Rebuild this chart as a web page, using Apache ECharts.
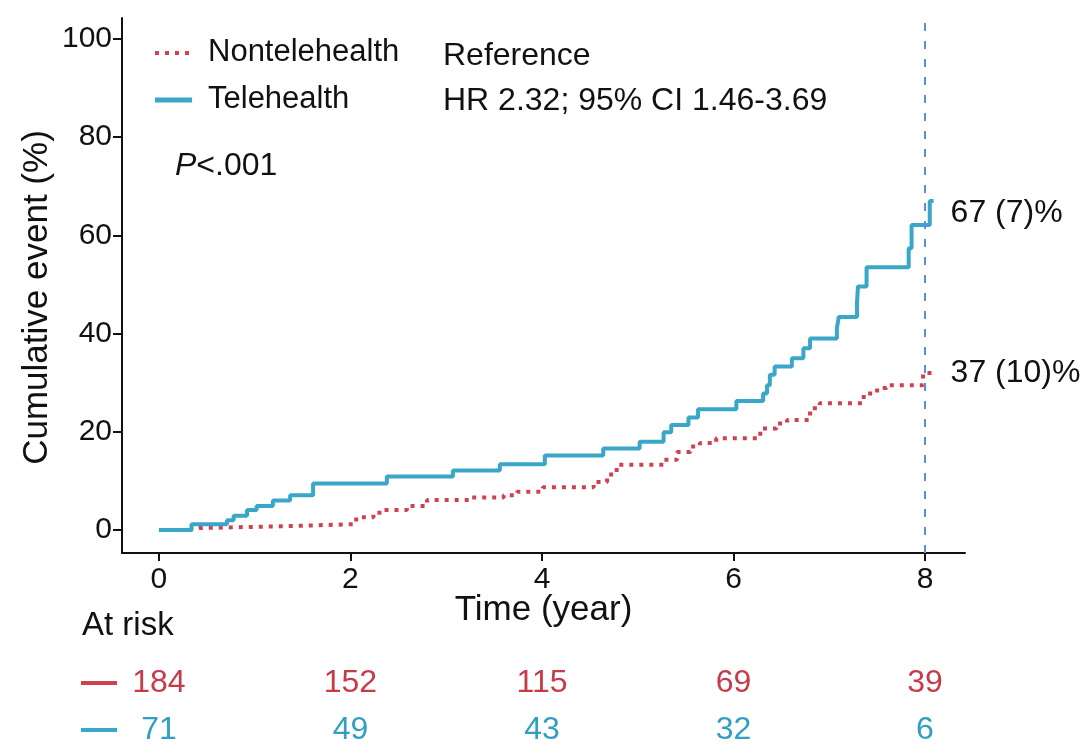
<!DOCTYPE html>
<html>
<head>
<meta charset="utf-8">
<script src="https://cdn.jsdelivr.net/npm/echarts@6/dist/echarts.min.js"></script>
<style>
  html, body { margin: 0; padding: 0; background: #ffffff; }
  #chart { width: 1083px; height: 745px; }
</style>
</head>
<body>
<div id="chart"></div>
<script>
// Cumulative event curves (step functions): time in years, cumulative event in %
const teleTime  = [0, 0.34, 0.71, 0.78, 0.92, 1.02, 1.19, 1.37, 1.61, 2.38, 3.07, 3.56, 4.03, 4.64, 5.02, 5.27, 5.35, 5.53, 5.63, 6.03, 6.31, 6.35, 6.38, 6.43, 6.61, 6.73, 6.80, 7.08, 7.10, 7.29, 7.30, 7.39, 7.83, 7.86, 8.05, 8.09];
const teleEvent = [0, 1.2, 2.0, 2.9, 4.1, 4.9, 6.0, 7.1, 9.5, 10.9, 12.1, 13.4, 15.2, 16.6, 18.0, 19.9, 21.4, 22.9, 24.6, 26.3, 27.8, 29.5, 31.6, 33.3, 35.0, 37.0, 39.0, 41.1, 43.4, 46.2, 49.6, 53.5, 57.4, 62.1, 67.0, 67.0];

const nonTime  = [0, 0.31, 0.42, 1.37, 2.06, 2.24, 2.34, 2.59, 2.80, 3.25, 3.60, 3.74, 4.01, 4.54, 4.68, 4.78, 5.27, 5.41, 5.55, 5.65, 5.82, 6.28, 6.45, 6.56, 6.80, 6.90, 7.36, 7.50, 7.60, 7.98, 8.09];
const nonEvent = [0, 0.4, 0.8, 1.2, 2.6, 3.5, 4.1, 4.9, 6.1, 6.6, 7.1, 7.8, 8.7, 9.8, 11.3, 13.3, 14.3, 15.9, 17.0, 17.7, 18.7, 20.7, 21.7, 22.4, 24.8, 25.8, 27.8, 28.9, 29.5, 32.0, 32.0];

// Axis ticks
const xTicks = [0, 2, 4, 6, 8];
const yTicks = [0, 20, 40, 60, 80, 100];
const landmarkYear = 8;

// Number at risk (row 1 = Nontelehealth, row 0 = Telehealth)
const riskTimes = [0, 2, 4, 6, 8];
const riskNon   = [184, 152, 115, 69, 39];
const riskTele  = [71, 49, 43, 32, 6];

// Text annotations
const groupNames = ['Nontelehealth', 'Telehealth'];
const endLabels  = ['37 (10)%', '67 (7)%'];
const hrLines    = ['Reference', 'HR 2.32; 95% CI 1.46-3.69'];

const RED = '#d1404f';
const BLUE = '#3aa7c8';
const RED_TEXT = '#c93a49';
const BLUE_TEXT = '#2f9fc2';
const FONT = '"Liberation Sans", Arial, sans-serif';
const INK = '#111111';

const zip = (xs, ys) => xs.map((x, i) => [x, ys[i]]);

const chart = echarts.init(document.getElementById('chart'), null, { renderer: 'canvas' });

const riskLabel = (color) => ({
  show: true,
  position: 'inside',
  formatter: p => String(p.value[2]),
  fontSize: 32,
  fontFamily: FONT,
  color: color,
  opacity: 1
});

const option = {
  backgroundColor: '#ffffff',
  animation: false,
  textStyle: { fontFamily: FONT, color: INK },
  grid: [
    { left: 122, right: 118, top: 18, bottom: 192, containLabel: false },
    { left: 122, right: 118, top: 660, bottom: 5, containLabel: false }
  ],
  xAxis: [
    {
      type: 'value',
      gridIndex: 0,
      min: -0.386,
      max: 8.418,
      name: 'Time (year)',
      nameLocation: 'middle',
      nameGap: 40,
      nameMoveOverlap: false,
      nameTextStyle: { fontSize: 35, fontFamily: FONT, color: INK },
      axisLine: { onZero: false, lineStyle: { color: INK, width: 2 } },
      axisTick: { show: true, length: 8, customValues: xTicks, lineStyle: { color: INK, width: 2 } },
      axisLabel: { customValues: xTicks, fontSize: 30, margin: 12, color: INK, fontFamily: FONT },
      splitLine: { show: false }
    },
    {
      type: 'value',
      gridIndex: 1,
      min: -0.386,
      max: 8.418,
      show: false
    }
  ],
  yAxis: [
    {
      type: 'value',
      gridIndex: 0,
      min: -4.68,
      max: 104.28,
      name: 'Cumulative event (%)',
      nameLocation: 'middle',
      nameGap: 67,
      nameMoveOverlap: false,
      nameTextStyle: { fontSize: 35, fontFamily: FONT, color: INK, padding: [0, 24, 0, 0] },
      axisLine: { show: true, onZero: false, lineStyle: { color: INK, width: 2 } },
      axisTick: { show: true, length: 9, customValues: yTicks, lineStyle: { color: INK, width: 2 } },
      axisLabel: { customValues: yTicks, fontSize: 30, margin: 10, color: INK, fontFamily: FONT },
      splitLine: { show: false }
    },
    {
      type: 'value',
      gridIndex: 1,
      min: -0.2128,
      max: 1.4894,
      show: false
    }
  ],
  series: [
    {
      name: groupNames[0],
      type: 'line',
      step: 'end',
      xAxisIndex: 0,
      yAxisIndex: 0,
      data: zip(nonTime, nonEvent),
      symbol: 'none',
      color: RED,
      lineStyle: { color: RED, width: 4, type: [4, 6], cap: 'butt' },
      endLabel: {
        show: true,
        formatter: () => endLabels[0],
        fontSize: 32,
        fontFamily: FONT,
        color: INK,
        distance: 17
      },
      z: 3
    },
    {
      name: groupNames[1],
      type: 'line',
      step: 'end',
      xAxisIndex: 0,
      yAxisIndex: 0,
      data: zip(teleTime, teleEvent),
      symbol: 'none',
      color: BLUE,
      lineStyle: { color: BLUE, width: 4 },
      endLabel: {
        show: true,
        formatter: () => endLabels[1],
        fontSize: 32,
        fontFamily: FONT,
        color: INK,
        distance: 17,
        offset: [0, 12]
      },
      markLine: {
        silent: true,
        symbol: 'none',
        label: { show: false },
        lineStyle: { color: '#5b8ed8', width: 2, type: [8, 10] },
        data: [{ xAxis: landmarkYear }]
      },
      z: 4
    },
    {
      name: 'riskNon',
      type: 'scatter',
      xAxisIndex: 1,
      yAxisIndex: 1,
      data: riskTimes.map((t, i) => [t, 1, riskNon[i]]),
      symbolSize: 1,
      itemStyle: { color: '#ffffff', opacity: 1 },
      emphasis: { disabled: true },
      label: riskLabel(RED_TEXT)
    },
    {
      name: 'riskTele',
      type: 'scatter',
      xAxisIndex: 1,
      yAxisIndex: 1,
      data: riskTimes.map((t, i) => [t, 0, riskTele[i]]),
      symbolSize: 1,
      itemStyle: { color: '#ffffff', opacity: 1 },
      emphasis: { disabled: true },
      label: riskLabel(BLUE_TEXT)
    }
  ],
  graphic: [
    // key
    {
      type: 'line',
      shape: { x1: 155, y1: 53, x2: 191, y2: 53 },
      style: { stroke: RED, lineWidth: 4, lineDash: [4, 6] }
    },
    {
      type: 'text', left: 208, top: 53 - 16,
      style: { text: groupNames[0], fontSize: 31, fontFamily: FONT, fill: INK }
    },
    {
      type: 'line',
      shape: { x1: 155, y1: 100, x2: 192, y2: 100 },
      style: { stroke: BLUE, lineWidth: 5 }
    },
    {
      type: 'text', left: 208, top: 100 - 16,
      style: { text: groupNames[1], fontSize: 31, fontFamily: FONT, fill: INK }
    },
    // hazard ratio
    {
      type: 'text', left: 443, top: 56 - 16,
      style: { text: hrLines[0], fontSize: 32, fontFamily: FONT, fill: INK }
    },
    {
      type: 'text', left: 443, top: 101 - 16,
      style: { text: hrLines[1], fontSize: 32, fontFamily: FONT, fill: INK }
    },
    {
      type: 'text', left: 175, top: 166 - 16,
      style: {
        text: '{i|P}<.001',
        fontSize: 32, fontFamily: FONT, fill: INK,
        rich: { i: { fontStyle: 'italic', fontSize: 32, fontFamily: FONT, fill: INK } }
      }
    },
    // number-at-risk table
    {
      type: 'text', left: 82, top: 626 - 17,
      style: { text: 'At risk', fontSize: 33, fontFamily: FONT, fill: INK }
    },
    {
      type: 'line',
      shape: { x1: 81, y1: 683, x2: 117, y2: 683 },
      style: { stroke: RED, lineWidth: 4 }
    },
    {
      type: 'line',
      shape: { x1: 81, y1: 730, x2: 117, y2: 730 },
      style: { stroke: BLUE, lineWidth: 4 }
    }
  ]
};

chart.setOption(option);
</script>
</body>
</html>
